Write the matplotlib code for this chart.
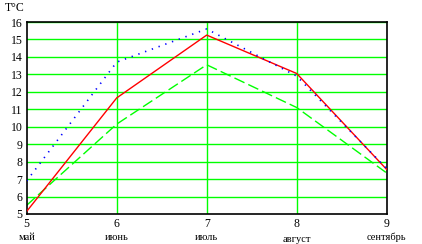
import matplotlib
matplotlib.use("Agg")
import matplotlib.pyplot as plt

months = [5, 6, 7, 8, 9]
month_names = ["май", "июнь", "июль", "август", "сентябрь"]
red_vals = [5.15, 11.65, 15.25, 13.05, 7.55]
blue_vals = [6.9, 13.7, 15.6, 12.9, 7.6]
green_vals = [5.5, 10.15, 13.55, 11.1, 7.35]
y_ticks = list(range(5, 17))

plt.rcParams['font.family'] = ['Liberation Serif', 'DejaVu Serif']

fig = plt.figure(figsize=(4.22, 2.44), dpi=100)
ax = fig.add_axes([26.7/422, 30/244, 360/422, 192/244])

for y in y_ticks[1:]:
    ax.axhline(y, color='#00ff00', lw=1, zorder=1)
for x in months[1:-1]:
    ax.axvline(x, color='#00ff00', lw=1, zorder=1)

ax.plot(months, green_vals, color='#00ff00', lw=1, dashes=(8, 3), zorder=2)
ax.plot(months, red_vals, color='#ff0000', lw=1, zorder=3)
ax.plot(months, blue_vals, color='#0000ff', lw=1.2, dashes=(0.8, 3.5), zorder=4)

ax.set_xlim(5, 9)
ax.set_ylim(5, 16)
ax.set_xticks(months)
ax.set_xticklabels([str(m) for m in months], fontsize=8.5)
ax.set_yticks(y_ticks)
ax.set_yticklabels([str(v) for v in y_ticks], fontsize=8.5)
ax.tick_params(length=0, pad=3)
for s in ax.spines.values():
    s.set_color('black')
    s.set_linewidth(1.2)

for m, name in zip(months, month_names):
    yoff = 239.5 if name == "август" else 237.5
    ax.annotate(name, xy=(m, 5), xycoords='data', xytext=(0, -(yoff - 214)),
                textcoords='offset pixels', ha='center', va='center', fontsize=7.5)

fig.text(5/422, 1 - 8/244, "T°C", fontsize=8.5, ha='left', va='center')

fig.savefig("out.png", dpi=100)
